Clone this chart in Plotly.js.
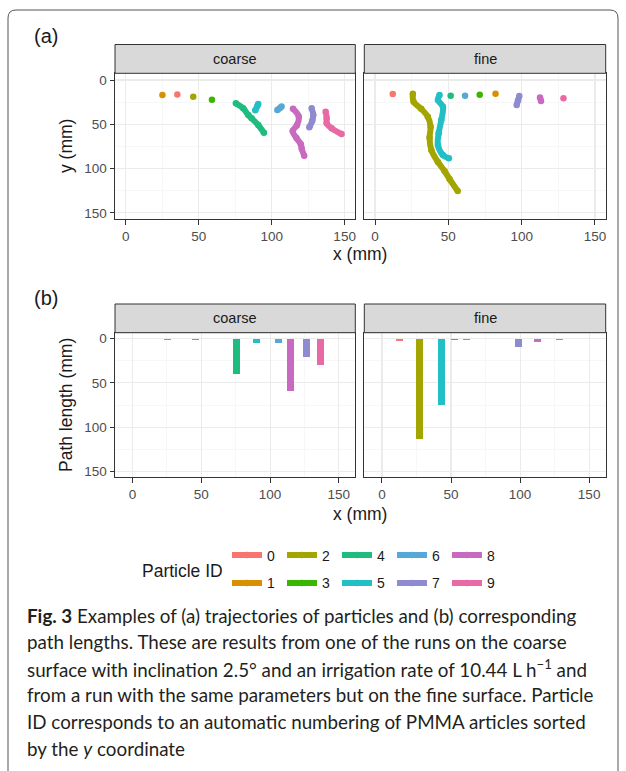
<!DOCTYPE html>
<html><head><meta charset="utf-8">
<script src="https://cdn.plot.ly/plotly-3.0.1.min.js"></script>
<style>html,body{margin:0;padding:0;background:#fff}#chart{width:626px;height:771px}</style>
</head><body><div id="chart"></div>
<script>
// ---------- DATA ----------
const particleIds = ['0','1','2','3','4','5','6','7','8','9'];
const particleColors = ['#F8766D','#D89000','#A3A500','#39B600','#1FBC80','#22BFC4','#56A9D6','#8E8BD0','#C86BC0','#E869A6'];
const surfaces = ['coarse','fine'];

// trajectories on the coarse surface (mm)
const coarseX = [
  [35.4], [25.2], [46.3], [59.1],
  [75.5, 80.5, 84.0, 86.3, 90.8, 94.7],
  [90.8, 90.1, 88.8],
  [106.8, 105.5, 103.9],
  [127.4, 128.5, 127.8, 125.8],
  [114.6, 118.6, 117.3, 114.4, 117.0, 120.0, 120.6, 122.3],
  [137.0, 137.7, 137.7, 141.1, 147.9]
];
const coarseY = [
  [16.2], [16.9], [18.8], [22.2],
  [26.3, 31.9, 39.5, 43.2, 50.8, 59.5],
  [27.1, 29.5, 34.2],
  [29.8, 31.8, 33.9],
  [32.0, 39.5, 46.0, 53.4],
  [32.4, 41.4, 51.0, 57.5, 65.5, 72.5, 77.5, 85.6],
  [35.7, 43.2, 48.9, 54.5, 60.9]
];
// trajectories on the fine surface (mm)
const fineX = [
  [12.1], [82.2],
  [25.8, 26.3, 31.5, 36.0, 37.9, 37.2, 38.4, 42.9, 47.5, 50.9, 56.4],
  [71.4], [51.6],
  [44.0, 42.9, 46.3, 45.2, 43.4, 42.9, 46.3, 50.4],
  [61.4],
  [98.4, 97.5, 96.6],
  [112.5, 113.2],
  [128.5]
];
const fineY = [
  [15.8], [15.4],
  [15.5, 24.5, 32.5, 41.4, 52.7, 65.0, 79.0, 92.5, 103.0, 112.0, 125.3],
  [16.6], [17.7],
  [16.9, 22.6, 30.1, 45.1, 60.2, 73.4, 84.7, 88.4],
  [17.7],
  [18.1, 23.0, 28.2],
  [19.6, 23.7],
  [20.7]
];
// path lengths (mm) at each particle's starting x
const coarseStartX = [35.1, 25.6, 45.8, 59.1, 75.5, 90.0, 106.0, 126.2, 114.6, 136.4];
const coarsePathLength = [0.3, 1.0, 1.0, 0.3, 39.6, 4.9, 4.5, 20.7, 58.8, 29.8];
const fineStartX = [12.6, 81.9, 27.2, 71.0, 52.7, 43.2, 61.2, 98.7, 112.5, 128.6];
const finePathLength = [2.3, 0.3, 113.0, 0.3, 1.0, 74.6, 1.0, 9.4, 3.7, 1.5];

const tickVals = [0, 50, 100, 150];
const captionLines = [
  '<b>Fig. 3</b> Examples of (a) trajectories of particles and (b) corresponding',
  'path lengths. These are results from one of the runs on the coarse',
  'surface with inclination 2.5° and an irrigation rate of 10.44 L h<sup>−1</sup> and',
  'from a run with the same parameters but on the fine surface. Particle',
  'ID corresponds to an automatic numbering of PMMA articles sorted',
  'by the <i>y</i> coordinate'
];

// ---------- LAYOUT HELPERS ----------
const W = 626, H = 771;
const px = v => v / W;
const py = v => 1 - v / H;
const FONT = 'Liberation Sans, Arial, sans-serif';

const panelX = [[115, 355.3], [364.3, 605.7]];
const topPanelY = [73.3, 219];
const topStripY = 44.5;
const botPanelY = [332.7, 477.3];
const botStripY = 304;

const traces = [];
for (let i = 0; i < particleIds.length; i++) {
  const common = {
    type: 'scatter', mode: 'lines+markers',
    line: {color: particleColors[i], width: 6, shape: 'spline'},
    marker: {color: particleColors[i], size: 6.5},
    name: particleIds[i], legendgroup: particleIds[i], hoverinfo: 'skip'
  };
  traces.push(Object.assign({}, common, {
    x: coarseX[i], y: coarseY[i], xaxis: 'x', yaxis: 'y',
    showlegend: true, legend: (i % 2 === 0) ? 'legend' : 'legend2'
  }));
  traces.push(Object.assign({}, common, {
    x: fineX[i], y: fineY[i], xaxis: 'x2', yaxis: 'y2', showlegend: false
  }));
}
traces.push({type: 'bar', x: coarseStartX, y: coarsePathLength, width: 5,
  marker: {color: particleColors, line: {width: 0}}, xaxis: 'x3', yaxis: 'y3', showlegend: false, hoverinfo: 'skip'});
traces.push({type: 'bar', x: fineStartX, y: finePathLength, width: 5,
  marker: {color: particleColors, line: {width: 0}}, xaxis: 'x4', yaxis: 'y4', showlegend: false, hoverinfo: 'skip'});

function axisBase(extra) {
  return Object.assign({
    showline: true, mirror: true, linecolor: '#333333', linewidth: 1,
    showgrid: true, gridcolor: '#EBEBEB', gridwidth: 1.1,
    minor: {dtick: 25, tick0: 0, showgrid: true, gridcolor: '#F2F2F2', gridwidth: 0.6, ticks: ''},
    zeroline: false, tickmode: 'array', tickvals: tickVals, ticktext: tickVals.map(String),
    ticks: 'outside', ticklen: 4.5, tickwidth: 1, tickcolor: '#333333',
    tickfont: {family: FONT, size: 13.5, color: '#4D4D4D'}, fixedrange: true
  }, extra);
}

const topX = [-7.3, 157.3], topY = [156.9, -7.6];
const botX = [-12.8, 162], botY = [156.8, -6.8];

const legendBase = {orientation: 'h', x: px(227), xanchor: 'left', yanchor: 'middle',
  entrywidth: 10, entrywidthmode: 'pixels', itemwidth: 30, bgcolor: 'rgba(0,0,0,0)',
  font: {family: FONT, size: 14, color: '#1A1A1A'}, traceorder: 'normal'};

const layout = {
  width: W, height: H, margin: {l: 0, r: 0, t: 0, b: 0},
  paper_bgcolor: '#ffffff', plot_bgcolor: '#ffffff',
  font: {family: FONT, color: '#1A1A1A'},
  bargap: 0,
  xaxis: axisBase({domain: [px(panelX[0][0]), px(panelX[0][1])], range: topX, anchor: 'y'}),
  yaxis: axisBase({domain: [py(topPanelY[1]), py(topPanelY[0])], range: topY, anchor: 'x'}),
  xaxis2: axisBase({domain: [px(panelX[1][0]), px(panelX[1][1])], range: topX, anchor: 'y2'}),
  yaxis2: axisBase({domain: [py(topPanelY[1]), py(topPanelY[0])], range: topY, anchor: 'x2', showticklabels: false, ticks: ''}),
  xaxis3: axisBase({domain: [px(panelX[0][0]), px(panelX[0][1])], range: botX, anchor: 'y3'}),
  yaxis3: axisBase({domain: [py(botPanelY[1]), py(botPanelY[0])], range: botY, anchor: 'x3'}),
  xaxis4: axisBase({domain: [px(panelX[1][0]), px(panelX[1][1])], range: botX, anchor: 'y4'}),
  yaxis4: axisBase({domain: [py(botPanelY[1]), py(botPanelY[0])], range: botY, anchor: 'x4', showticklabels: false, ticks: ''}),
  legend: Object.assign({}, legendBase, {y: py(555.5)}),
  legend2: Object.assign({}, legendBase, {y: py(583.3)}),
  shapes: [],
  annotations: []
};

// strips
[[topStripY, topPanelY[0]], [botStripY, botPanelY[0]]].forEach(([s0, s1]) => {
  panelX.forEach((pxr, k) => {
    layout.shapes.push({type: 'rect', xref: 'paper', yref: 'paper',
      x0: px(pxr[0]), x1: px(pxr[1]), y0: py(s1), y1: py(s0),
      fillcolor: '#D9D9D9', line: {color: '#333333', width: 1}});
    layout.annotations.push({xref: 'paper', yref: 'paper', x: px((pxr[0] + pxr[1]) / 2), y: py((s0 + s1) / 2),
      xanchor: 'center', yanchor: 'middle', showarrow: false, text: surfaces[k],
      font: {family: FONT, size: 14.5, color: '#1A1A1A'}});
  });
});

// outer rounded frame
(function () {
  const L = 8, T = 10, R = 618, B = 780, r = 8;
  const p = `M${px(L)},${py(B)} L${px(L)},${py(T + r)} Q${px(L)},${py(T)} ${px(L + r)},${py(T)} L${px(R - r)},${py(T)} Q${px(R)},${py(T)} ${px(R)},${py(T + r)} L${px(R)},${py(B)}`;
  layout.shapes.push({type: 'path', xref: 'paper', yref: 'paper', path: p, line: {color: '#555555', width: 1}});
})();

function ann(text, x, y, size, extra) {
  layout.annotations.push(Object.assign({xref: 'paper', yref: 'paper', x: px(x), y: py(y), text: text,
    showarrow: false, xanchor: 'center', yanchor: 'middle',
    font: {family: FONT, size: size, color: '#1A1A1A'}}, extra || {}));
}
ann('(a)', 32, 36, 20, {xanchor: 'left'});
ann('(b)', 32, 298, 20, {xanchor: 'left'});
ann('x (mm)', 360.3, 254, 17.5);
ann('x (mm)', 360.3, 514, 17.5);
ann('y (mm)', 66, 146, 17.5, {textangle: -90});
ann('Path length (mm)', 66, 405, 17.5, {textangle: -90});
ann('Particle ID', 182.5, 570.5, 17.5);

captionLines.forEach((t, i) => {
  ann(t, 25, 615 + i * 26.6, 18.8, {xanchor: 'left', font: {family: 'Lato, Open Sans, sans-serif', size: 18.8, color: '#231F20'}});
});

Plotly.newPlot('chart', traces, layout, {displayModeBar: false, staticPlot: true});
</script>
</body></html>
